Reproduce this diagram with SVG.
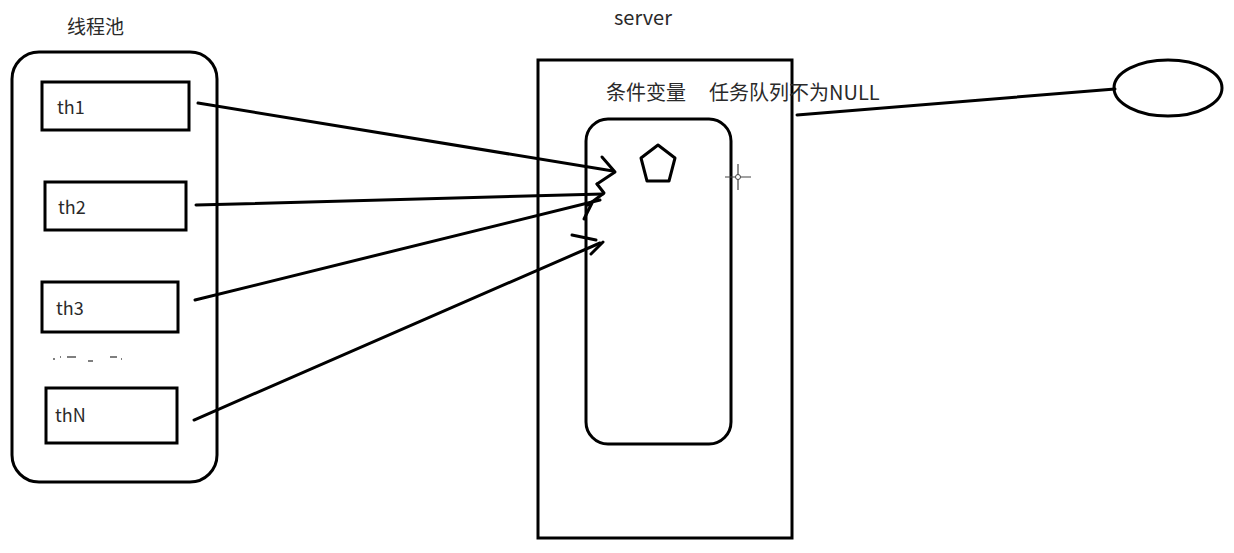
<svg xmlns="http://www.w3.org/2000/svg" width="1234" height="553" viewBox="0 0 1234 553">
<style>
  .box{fill:none;stroke:#000;stroke-width:3}
  .ln{fill:none;stroke:#000;stroke-width:3;stroke-linecap:round;stroke-linejoin:round}
  .t{font-family:"Noto Sans CJK SC","Liberation Sans",sans-serif;fill:#2a2a2a}
  .cn{font-size:19px}
  .lab{font-size:18px}
</style>
<rect width="1234" height="553" fill="#fff"/>

<g id="pool">
  <rect class="box" x="12" y="52" width="205" height="430" rx="27"/>
  <text class="t cn" x="67" y="34">线程池</text>
</g>
<g id="th1">
  <rect class="box" x="42" y="82" width="147" height="48"/>
  <text class="t lab" x="57" y="114">th1</text>
</g>
<g id="th2">
  <rect class="box" x="45" y="182" width="141" height="48"/>
  <text class="t lab" x="58" y="214">th2</text>
</g>
<g id="th3">
  <rect class="box" x="42" y="282" width="136" height="50"/>
  <text class="t lab" x="56" y="315">th3</text>
</g>
<g id="dots">
  <path d="M53 359h2M60 357h1M67 357h9M88 361h5M110 357h7M121 359h1" stroke="#555" stroke-width="1.5" fill="none"/>
</g>
<g id="thN">
  <rect class="box" x="46" y="388" width="131" height="55"/>
  <text class="t lab" x="55" y="422">thN</text>
</g>

<g id="server">
  <rect class="box" x="538" y="60" width="254" height="478"/>
  <text class="t" x="614" y="25" font-size="20">server</text>
</g>
<g id="condvar">
  <rect class="box" x="586" y="119" width="145" height="325" rx="22"/>
  <text class="t" x="606" y="100" font-size="20">条件变量</text>
  <polygon class="ln" points="658,145 675,158 669,181 647,181 641,158"/>
</g>
<g id="queue-label">
  <text class="t" x="709" y="100" font-size="20">任务队列不为NULL</text>
</g>
<g id="cursor">
  <path d="M738 164v26M725 177h26" stroke="#444" stroke-width="1.2" fill="none"/>
  <circle cx="738" cy="177" r="2.5" fill="#fff" stroke="#444" stroke-width="1"/>
</g>
<g id="task">
  <ellipse class="box" cx="1168" cy="88" rx="54" ry="28"/>
</g>

<g id="connectors">
  <path class="ln" d="M198 103L613 171"/>
  <path class="ln" d="M602 157L615 172L597 184"/>
  <path class="ln" d="M196 205L603 194"/>
  <path class="ln" d="M597 184L604 193L588 205"/>
  <path class="ln" d="M195 300L600 200"/>
  <path class="ln" d="M592 203L584 219"/>
  <path class="ln" d="M194 420L600 243"/>
  <path class="ln" d="M572 235L596 240"/>
  <path class="ln" d="M591 254L603 242"/>
  <path class="ln" d="M797 115L1115 89"/>
</g>
</svg>
